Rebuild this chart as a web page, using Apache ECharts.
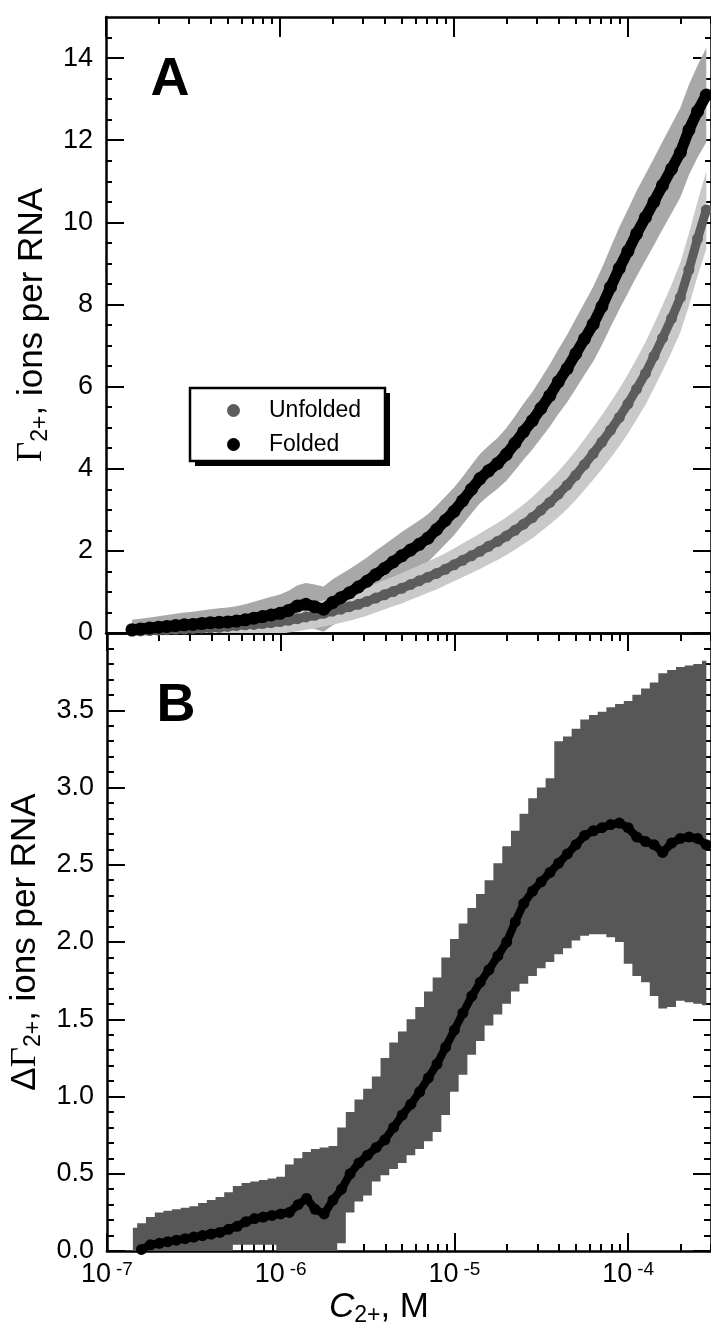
<!DOCTYPE html>
<html><head><meta charset="utf-8">
<script src="https://cdn.jsdelivr.net/npm/echarts@6/dist/echarts.min.js"></script>
<style>html,body{margin:0;padding:0;background:#fff;}#c{width:711px;height:1330px;}</style>
</head><body><div id="c"></div>
<script>
// Mg2+ concentration (M)
const conc = [
  1.41e-7,1.58e-7,1.78e-7,2.00e-7,2.24e-7,2.51e-7,2.82e-7,3.16e-7,3.55e-7,3.98e-7,4.47e-7,5.01e-7,5.62e-7,6.31e-7,7.08e-7,7.94e-7,8.91e-7,
  1.00e-6,1.12e-6,1.26e-6,1.41e-6,1.58e-6,1.78e-6,2.00e-6,2.24e-6,2.51e-6,2.82e-6,3.16e-6,3.55e-6,3.98e-6,4.47e-6,5.01e-6,5.62e-6,6.31e-6,7.08e-6,7.94e-6,8.91e-6,
  1.00e-5,1.12e-5,1.26e-5,1.41e-5,1.58e-5,1.78e-5,2.00e-5,2.24e-5,2.51e-5,2.82e-5,3.16e-5,3.55e-5,3.98e-5,4.47e-5,5.01e-5,5.62e-5,6.31e-5,7.08e-5,7.94e-5,8.91e-5,
  1.00e-4,1.12e-4,1.26e-4,1.41e-4,1.58e-4,1.78e-4,2.00e-4,2.24e-4,2.51e-4,2.82e-4
];
// Panel A: folded
const foldedMean = [
  0.08,0.10,0.12,0.14,0.16,0.18,0.20,0.21,0.23,0.25,0.26,0.27,0.29,0.32,0.36,0.40,0.44,
  0.48,0.55,0.66,0.70,0.64,0.58,0.74,0.86,0.98,1.12,1.26,1.42,1.57,1.73,1.88,2.02,2.16,2.31,2.52,2.74,
  2.96,3.22,3.50,3.76,3.95,4.13,4.35,4.62,4.90,5.17,5.47,5.78,6.12,6.44,6.80,7.16,7.52,7.95,8.42,8.88,
  9.30,9.72,10.12,10.50,10.90,11.30,11.70,12.25,12.70,13.10
];
const foldedErr = [
  0.24,0.25,0.26,0.27,0.28,0.29,0.30,0.31,0.32,0.33,0.34,0.35,0.36,0.38,0.40,0.42,0.44,
  0.46,0.48,0.50,0.52,0.54,0.55,0.56,0.57,0.58,0.58,0.58,0.58,0.58,0.58,0.58,0.58,0.58,0.58,0.58,0.58,
  0.58,0.58,0.59,0.60,0.61,0.62,0.64,0.66,0.68,0.70,0.73,0.76,0.79,0.82,0.85,0.88,0.91,0.94,0.97,1.00,
  1.02,1.04,1.05,1.06,1.07,1.08,1.09,1.10,1.12,1.15
];
// Panel A: unfolded
const unfoldedMean = [
  0.04,0.05,0.06,0.07,0.08,0.09,0.10,0.11,0.12,0.13,0.14,0.16,0.18,0.20,0.21,0.23,0.25,
  0.28,0.31,0.35,0.39,0.43,0.48,0.53,0.58,0.64,0.70,0.77,0.85,0.93,1.01,1.09,1.18,1.27,1.36,1.45,1.55,
  1.66,1.77,1.88,1.99,2.11,2.23,2.36,2.50,2.65,2.81,2.99,3.18,3.38,3.60,3.84,4.10,4.37,4.65,4.94,5.25,
  5.58,5.94,6.32,6.74,7.18,7.66,8.17,8.85,9.60,10.30
];
const unfoldedErr = [
  0.18,0.18,0.19,0.19,0.20,0.20,0.21,0.21,0.22,0.22,0.23,0.24,0.25,0.26,0.27,0.28,0.29,
  0.30,0.30,0.31,0.31,0.32,0.32,0.33,0.33,0.34,0.34,0.35,0.35,0.36,0.36,0.37,0.37,0.38,0.38,0.39,0.39,
  0.40,0.41,0.42,0.43,0.44,0.45,0.46,0.47,0.48,0.50,0.52,0.54,0.56,0.58,0.60,0.62,0.64,0.66,0.68,0.70,
  0.72,0.74,0.76,0.78,0.80,0.82,0.85,0.88,0.91,0.95
];
// Panel B: difference
const deltaMean = [
  null,0.01,0.04,0.05,0.06,0.07,0.08,0.09,0.10,0.11,0.12,0.14,0.16,0.19,0.21,0.22,0.23,
  0.24,0.25,0.30,0.34,0.27,0.24,0.33,0.40,0.50,0.57,0.62,0.67,0.72,0.80,0.88,0.95,1.03,1.12,1.21,1.32,
  1.43,1.54,1.65,1.74,1.82,1.91,2.00,2.13,2.25,2.33,2.39,2.45,2.51,2.57,2.63,2.69,2.72,2.74,2.76,2.77,
  2.74,2.68,2.65,2.63,2.58,2.64,2.67,2.68,2.67,2.63
];
const deltaUpper = [
  0.15,0.18,0.22,0.25,0.26,0.27,0.28,0.29,0.31,0.33,0.35,0.38,0.42,0.44,0.45,0.46,0.47,
  0.48,0.56,0.60,0.64,0.66,0.67,0.68,0.80,0.90,0.98,1.05,1.13,1.25,1.35,1.42,1.50,1.58,1.68,1.77,1.90,
  2.02,2.12,2.22,2.31,2.40,2.51,2.62,2.72,2.83,2.93,3.00,3.06,3.30,3.33,3.38,3.44,3.47,3.49,3.52,3.54,
  3.56,3.60,3.64,3.68,3.74,3.76,3.78,3.79,3.80,3.82
];
const deltaLower = [
  0,0,0,0,0,0,0,0,0,0,0,0,0.04,0.04,0.04,0.04,0.04,
  0,0,0,0,0,0,0,0.05,0.25,0.32,0.36,0.45,0.49,0.53,0.57,0.62,0.66,0.71,0.77,0.88,
  1.03,1.14,1.27,1.36,1.46,1.53,1.60,1.68,1.73,1.78,1.83,1.87,1.92,1.96,2.01,2.04,2.05,2.05,2.03,2.00,
  1.86,1.78,1.74,1.65,1.57,1.58,1.62,1.61,1.60,1.59
];
// Axis ticks
const xMajorTicks = [1e-7, 1e-6, 1e-5, 1e-4];
const xTickExponents = ['-7', '-6', '-5', '-4'];
const xMinorTicks = [2e-7,3e-7,4e-7,5e-7,6e-7,7e-7,8e-7,9e-7,2e-6,3e-6,4e-6,5e-6,6e-6,7e-6,8e-6,9e-6,
  2e-5,3e-5,4e-5,5e-5,6e-5,7e-5,8e-5,9e-5,2e-4,3e-4];
const yTicksA = [0,2,4,6,8,10,12,14];
const yMinorTicksA = [0.5,1,1.5,2.5,3,3.5,4.5,5,5.5,6.5,7,7.5,8.5,9,9.5,10.5,11,11.5,12.5,13,13.5,14.5];
const yTicksB = [0,0.5,1,1.5,2,2.5,3,3.5];
const yMinorTicksB = [0.1,0.2,0.3,0.4,0.6,0.7,0.8,0.9,1.1,1.2,1.3,1.4,1.6,1.7,1.8,1.9,2.1,2.2,2.3,2.4,
  2.6,2.7,2.8,2.9,3.1,3.2,3.3,3.4,3.6,3.7,3.8,3.9];
const legendNames = ['Unfolded', 'Folded'];

const FONT = 'Liberation Sans';
const X_MIN = 1e-7, X_MAX = 3e-4;
const lineW = 2.5;

function xAxisDef(grid, pos, ticks, len, showLine, labels) {
  const a = {
    type: 'log', logBase: 10, gridIndex: grid, position: pos, min: X_MIN, max: X_MAX,
    axisLine: {show: showLine, onZero: false, lineStyle: {color: '#000', width: lineW}},
    axisTick: {show: !!ticks, inside: true, length: len, customValues: ticks || undefined, lineStyle: {color: '#000', width: 2}},
    axisLabel: {show: false},
    splitLine: {show: false}, minorTick: {show: false}
  };
  if (labels) {
    a.axisLabel = {
      show: true, customValues: xMajorTicks, margin: 9,
      formatter: function (v) {
        const i = xMajorTicks.findIndex(t => Math.abs(Math.log10(t) - Math.log10(v)) < 0.01);
        return '{m|10}{e|' + xTickExponents[i] + '}';
      },
      rich: {
        m: {fontSize: 27, fontFamily: FONT, color: '#000', lineHeight: 30},
        e: {fontSize: 19, fontFamily: FONT, color: '#000', verticalAlign: 'top', lineHeight: 20, padding: [0, 0, 0, 5]}
      }
    };
    a.name = '{c|C}{s|2+}{n|, M}';
    a.nameLocation = 'middle';
    a.nameGap = 36;
    a.nameTextStyle = {
      padding: [0, 60, 0, 0],
      rich: {
        c: {fontSize: 35, fontStyle: 'italic', fontFamily: FONT, color: '#000', lineHeight: 40},
        s: {fontSize: 23, fontFamily: FONT, color: '#000', verticalAlign: 'bottom', lineHeight: 25},
        n: {fontSize: 35, fontFamily: FONT, color: '#000', lineHeight: 40}
      }
    };
  }
  return a;
}

function yAxisDef(grid, pos, min, max, ticks, len, showLine, labelFmt, name) {
  const a = {
    type: 'value', gridIndex: grid, position: pos, min: min, max: max,
    axisLine: {show: showLine, onZero: false, lineStyle: {color: '#000', width: lineW}},
    axisTick: {show: true, inside: true, length: len, customValues: ticks, lineStyle: {color: '#000', width: 2}},
    axisLabel: {show: false},
    splitLine: {show: false}
  };
  if (labelFmt) {
    a.axisLabel = {show: true, customValues: ticks, margin: 13, fontSize: 27, fontFamily: FONT, color: '#000', formatter: labelFmt};
  }
  if (name) {
    a.name = name;
    a.nameLocation = 'middle';
    a.nameRotate = 90;
    a.nameGap = 53;
    a.nameTextStyle = {
      rich: {
        g: {fontSize: 35, fontFamily: 'Liberation Serif', color: '#000', lineHeight: 40},
        d: {fontSize: 35, fontFamily: FONT, color: '#000', lineHeight: 40},
        s: {fontSize: 23, fontFamily: FONT, color: '#000', verticalAlign: 'bottom', lineHeight: 27},
        t: {fontSize: 35, fontFamily: FONT, color: '#000', lineHeight: 40}
      }
    };
  }
  return a;
}

const pairs = (arr) => conc.map((c, i) => [c, arr[i]]).filter(p => p[1] !== null);

// Filled band between lower and upper bounds, drawn through the axes' coordinate system
function bandSeries(xi, yi, lower, upper, color, z, stepped) {
  const n = conc.length;
  return {
    type: 'custom', xAxisIndex: xi, yAxisIndex: yi, clip: true, silent: true, z: z,
    data: conc.map((c, i) => [c, lower[i], upper[i]]),
    encode: {x: 0, y: [1, 2]},
    renderItem: function (params, api) {
      if (params.dataIndex !== 0) return null;
      const top = [], bot = [];
      for (let i = 0; i < n; i++) {
        const pu = api.coord([api.value(0, i), api.value(2, i)]);
        const pl = api.coord([api.value(0, i), api.value(1, i)]);
        if (stepped) {
          const xl = i === 0 ? pu[0] : (api.coord([api.value(0, i - 1), 0])[0] + pu[0]) / 2;
          const xr = i === n - 1 ? pu[0] : (api.coord([api.value(0, i + 1), 0])[0] + pu[0]) / 2;
          top.push([xl, pu[1]], [xr, pu[1]]);
          bot.push([xl, pl[1]], [xr, pl[1]]);
        } else {
          top.push(pu); bot.push(pl);
        }
      }
      return {type: 'polygon', shape: {points: top.concat(bot.reverse())}, style: {fill: color}};
    }
  };
}

const fLo = foldedMean.map((m, i) => m - foldedErr[i]);
const fHi = foldedMean.map((m, i) => m + foldedErr[i]);
const uLo = unfoldedMean.map((m, i) => m - unfoldedErr[i]);
const uHi = unfoldedMean.map((m, i) => m + unfoldedErr[i]);

const chart = echarts.init(document.getElementById('c'), null, {renderer: 'canvas'});
chart.setOption({
  animation: false,
  backgroundColor: '#fff',
  grid: [
    {left: 106, top: 17, width: 610, height: 616},
    {left: 106, top: 633, width: 610, height: 618}
  ],
  xAxis: [
    xAxisDef(0, 'bottom', null, 0, true, false),          // 0 A bottom line
    xAxisDef(0, 'top', xMajorTicks, 20, true, false),     // 1 A top major
    xAxisDef(0, 'top', xMinorTicks, 7, false, false),     // 2 A top minor
    xAxisDef(1, 'bottom', xMajorTicks, 18, true, true),   // 3 B bottom major + labels
    xAxisDef(1, 'bottom', xMinorTicks, 7, false, false),  // 4 B bottom minor
    xAxisDef(1, 'top', xMajorTicks, 18, true, false),     // 5 B top major
    xAxisDef(1, 'top', xMinorTicks, 8, false, false)      // 6 B top minor
  ],
  yAxis: [
    yAxisDef(0, 'left', 0, 15, yTicksA, 18, true, v => String(v),
      '{g|Γ}{s|2+}{t|, ions per RNA}'),                   // 0
    yAxisDef(0, 'left', 0, 15, yMinorTicksA, 6, false),   // 1
    yAxisDef(0, 'right', 0, 15, yTicksA, 18, true),       // 2
    yAxisDef(0, 'right', 0, 15, yMinorTicksA, 6, false),  // 3
    yAxisDef(1, 'left', 0, 4, yTicksB, 18, true, v => v.toFixed(1),
      '{d|Δ}{g|Γ}{s|2+}{t|, ions per RNA}'),              // 4
    yAxisDef(1, 'left', 0, 4, yMinorTicksB, 7, false),    // 5
    yAxisDef(1, 'right', 0, 4, yTicksB, 18, true),        // 6
    yAxisDef(1, 'right', 0, 4, yMinorTicksB, 7, false)    // 7
  ],
  legend: {
    data: legendNames, orient: 'vertical', left: 190, top: 388, z: 6,
    icon: 'circle', itemWidth: 13, itemHeight: 13, itemGap: 11,
    padding: [11, 28, 7, 37],
    backgroundColor: 'transparent', borderWidth: 0,
    selectedMode: false,
    textStyle: {fontSize: 23, fontFamily: FONT, color: '#000', lineHeight: 22, padding: [0, 0, 0, 24]}
  },
  graphic: [
    {type: 'rect', z: 5, shape: {x: 195, y: 393, width: 195, height: 73}, style: {fill: '#000'}},
    {type: 'rect', z: 5, shape: {x: 190, y: 388, width: 195, height: 73}, style: {fill: '#fff', stroke: '#000', lineWidth: 2.5}},
    {type: 'text', z: 5, x: 170, y: 80, style: {text: 'A', font: 'bold 54px "Liberation Sans"', fill: '#000', align: 'center', verticalAlign: 'middle'}},
    {type: 'text', z: 5, x: 176, y: 706, style: {text: 'B', font: 'bold 54px "Liberation Sans"', fill: '#000', align: 'center', verticalAlign: 'middle'}}
  ],
  series: [
    bandSeries(0, 0, fLo, fHi, '#a8a8a8', 1, false),
    bandSeries(0, 0, uLo, uHi, '#c9c9c9', 2, false),
    {name: 'Unfolded', type: 'line', xAxisIndex: 0, yAxisIndex: 0, data: pairs(unfoldedMean),
     symbol: 'circle', symbolSize: 11, lineStyle: {width: 9, color: '#5c5c5c'}, itemStyle: {color: '#5c5c5c'}, z: 3},
    {name: 'Folded', type: 'line', xAxisIndex: 0, yAxisIndex: 0, data: pairs(foldedMean),
     symbol: 'circle', symbolSize: 13, lineStyle: {width: 11, color: '#000'}, itemStyle: {color: '#000'}, z: 4},
    bandSeries(3, 4, deltaLower, deltaUpper, '#575757', 1, true),
    {name: 'Delta', type: 'line', xAxisIndex: 3, yAxisIndex: 4, data: pairs(deltaMean),
     symbol: 'circle', symbolSize: 11, lineStyle: {width: 8, color: '#000'}, itemStyle: {color: '#000'}, z: 4}
  ]
});
</script></body></html>
